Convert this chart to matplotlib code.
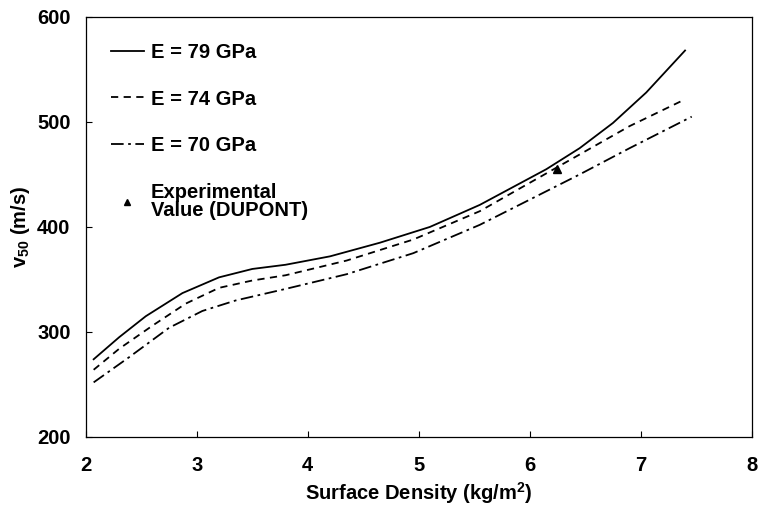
import matplotlib
matplotlib.use("Agg")
import matplotlib.pyplot as plt
from matplotlib.lines import Line2D

plt.rcParams['font.family'] = ['Liberation Sans', 'DejaVu Sans']
plt.rcParams['font.weight'] = 'bold'
plt.rcParams['mathtext.fontset'] = 'custom'
plt.rcParams['mathtext.rm'] = 'Liberation Sans:bold'
plt.rcParams['mathtext.it'] = 'Liberation Sans:bold'
plt.rcParams['mathtext.bf'] = 'Liberation Sans:bold'

# Ballistic limit velocity vs. surface density for three fibre moduli
x79 = [2.07, 2.30, 2.54, 2.87, 3.20, 3.50, 3.80, 4.20, 4.65, 5.10, 5.55, 5.85, 6.15, 6.45, 6.75, 7.05, 7.40]
v79 = [274, 295, 315, 337, 352, 360, 364, 372, 385, 400, 421, 438, 455, 475, 499, 528, 568]

x74 = [2.07, 2.30, 2.60, 2.90, 3.20, 3.50, 3.80, 4.35, 4.95, 5.55, 6.00, 6.45, 6.90, 7.37]
v74 = [264, 284, 306, 327, 342, 349, 354, 368, 388, 415, 442, 469, 496, 520]

x70 = [2.07, 2.39, 2.75, 3.05, 3.35, 3.80, 4.35, 4.95, 5.55, 6.00, 6.45, 6.90, 7.46]
v70 = [252, 276, 304, 320, 330, 341, 355, 375, 402, 426, 450, 475, 505]

# Measured value (DuPont)
x_exp = [6.25]
v_exp = [455]

x_ticks = [2, 3, 4, 5, 6, 7, 8]
y_ticks = [200, 300, 400, 500, 600]

fig = plt.figure(figsize=(7.6, 5.12), dpi=100)
ax = fig.add_axes([0.113, 0.1465, 0.876, 0.8205])

lw = 1.3
ls74 = (0, (4, 3))
ls70 = (0, (7, 2.5, 1.5, 2.5))
ax.plot(x79, v79, color='black', lw=lw, linestyle='-')
ax.plot(x74, v74, color='black', lw=lw, linestyle=ls74)
ax.plot(x70, v70, color='black', lw=lw, linestyle=ls70)
ax.plot(x_exp, v_exp, linestyle='none', marker='^', color='black', markersize=6)

ax.set_xlim(2, 8)
ax.set_ylim(200, 600)
ax.set_xticks(x_ticks)
ax.set_yticks(y_ticks)
ax.tick_params(direction='in', length=4, width=0.8, labelsize=14.5)
ax.tick_params(axis='x', pad=13.5)
ax.tick_params(axis='y', pad=11)
for lab in ax.get_xticklabels() + ax.get_yticklabels():
    lab.set_fontweight('bold')
for s in ax.spines.values():
    s.set_linewidth(0.9)

ax.set_xlabel(r'Surface Density (kg/m$^{2}$)', fontsize=14.5, fontweight='bold', labelpad=4)
ax.set_ylabel(r'v$_{50}$ (m/s)', fontsize=14.5, fontweight='bold', labelpad=4)

handles = [
    Line2D([], [], color='black', lw=lw, linestyle='-'),
    Line2D([], [], color='black', lw=lw, linestyle=ls74),
    Line2D([], [], color='black', lw=lw, linestyle=ls70),
    Line2D([], [], color='black', linestyle='none', marker='^', markersize=5),
]
labels = ['E = 79 GPa', 'E = 74 GPa', 'E = 70 GPa', 'Experimental\nValue (DUPONT)']
leg = ax.legend(handles, labels, loc='upper left', frameon=False,
                prop={'size': 14.5, 'weight': 'bold'},
                handlelength=1.6, handletextpad=0.35, labelspacing=1.38,
                borderaxespad=0.3, bbox_to_anchor=(0.017, 0.972))
leg.get_texts()[3].set_linespacing(0.95)

fig.savefig('out.png', dpi=100, facecolor='white')
